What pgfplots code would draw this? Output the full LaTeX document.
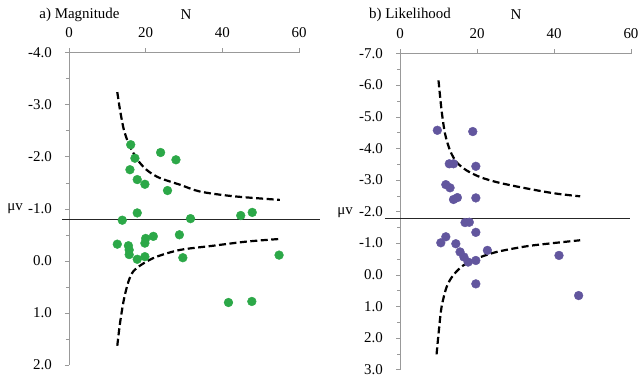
\documentclass[border=0pt]{standalone}
\usepackage{pgfplots}
\pgfplotsset{compat=1.18}
\usepackage{fontspec}
\setmainfont{Liberation Serif}
\definecolor{mgreen}{RGB}{44,168,72}
\definecolor{mpurple}{RGB}{98,86,158}
\begin{document}
\fontsize{15}{17}\selectfont%
\begin{tikzpicture}[font=\fontsize{15}{17}\selectfont]
\path[use as bounding box] (0,0) rectangle (639bp,381bp);
\pgfplotsset{
 panel/.style={
   scale only axis, clip=false,
   axis x line*=top, axis y line*=left,
   axis line style={-, gray!80},
   xmin=0, xmax=60, xtick={0,20,40,60}, xticklabels={0,20,40,60},
   y dir=reverse,
   tick align=outside, major tick length=4bp, minor tick length=3bp,
   minor y tick num=1, minor x tick num=0,
   every tick/.style={gray!80},
   tick label style={font=\fontsize{15}{17}\selectfont, text=black},
   yticklabel style={xshift=-8bp},
   xticklabel style={yshift=6bp},
 },
 pts/.style={only marks, mark=*, mark size=4.4bp, mark options={draw=#1, fill=#1}},
 funnel/.style={black, line width=2.2bp, dash pattern=on 7bp off 3.5bp, smooth, mark=none},
 muline/.style={black!85, line width=1bp, mark=none},
}
% ---------- a) Magnitude ----------
\begin{axis}[panel, at={(69bp,328.5bp)}, anchor=north west,
  width=230bp, height=312.5bp,
  ymin=-4, ymax=2, ytick={-4,-3,-2,-1,0,1,2},
  yticklabels={-4.0,-3.0,-2.0,-1.0,0.0,1.0,2.0}]
\addplot[muline] coordinates {(-1.8,-0.79) (65.5,-0.79)};
\addplot[funnel] coordinates {(12.6,-3.24) (13.3,-2.90) (14.3,-2.52) (15.5,-2.26) (16.8,-2.07) (18.5,-1.88) (20.7,-1.72) (23.7,-1.59) (29,-1.46) (34.2,-1.33) (42.9,-1.24) (55,-1.17)};
\addplot[funnel] coordinates {(12.6,1.63) (13.3,1.20) (14.3,0.75) (15.5,0.40) (16.8,0.20) (19.4,0.05) (22.9,-0.08) (29,-0.21) (37.6,-0.29) (46.4,-0.37) (55,-0.42)};
\addplot[pts=mgreen] coordinates {
 (16.1,-2.23) (17.2,-1.97) (23.9,-2.08) (27.9,-1.94) (15.9,-1.75) (17.8,-1.56) (19.8,-1.47) (25.7,-1.35)
 (13.9,-0.78) (17.8,-0.92) (31.7,-0.81) (44.8,-0.87) (47.8,-0.93)
 (12.6,-0.32) (15.5,-0.29) (15.7,-0.21) (15.7,-0.12) (17.8,-0.03) (19.8,-0.08) (19.8,-0.34) (20.0,-0.43) (22.0,-0.47)
 (28.8,-0.50) (29.7,-0.06) (54.8,-0.11) (41.6,0.80) (47.7,0.78)};
\end{axis}
% ---------- b) Likelihood ----------
\begin{axis}[panel, at={(400bp,327.5bp)}, anchor=north west,
  width=231bp, height=316bp,
  ymin=-7, ymax=3, ytick={-7,-6,-5,-4,-3,-2,-1,0,1,2,3},
  yticklabels={-7.0,-6.0,-5.0,-4.0,-3.0,-2.0,-1.0,0.0,1.0,2.0,3.0}]
\addplot[muline] coordinates {(-3.9,-1.77) (59.7,-1.77)};
\addplot[funnel] coordinates {(10.0,-6.15) (10.8,-5.20) (11.7,-4.46) (13.0,-3.93) (14.7,-3.56) (17.3,-3.30) (20.8,-3.09) (25.1,-2.93) (31.2,-2.77) (39.8,-2.58) (46.8,-2.48)};
\addplot[funnel] coordinates {(9.5,2.52) (10.1,1.76) (10.8,1.02) (12.1,0.39) (13.8,0.02) (16.4,-0.29) (19.9,-0.51) (25.1,-0.72) (32.9,-0.90) (39.8,-1.00) (46.8,-1.09)};
\addplot[pts=mpurple] coordinates {
 (9.7,-4.57) (18.9,-4.53) (12.8,-3.51) (13.9,-3.51) (19.7,-3.43) (11.9,-2.85) (13.0,-2.75)
 (13.9,-2.38) (14.9,-2.44) (19.7,-2.43) (16.9,-1.65) (18.0,-1.66) (19.7,-1.34)
 (10.6,-1.01) (11.9,-1.20) (14.5,-0.98) (15.6,-0.72) (16.6,-0.56) (17.7,-0.40) (19.7,-0.45)
 (22.7,-0.77) (19.7,0.29) (41.3,-0.61) (46.4,0.66)};
\end{axis}
% ---------- titles and labels ----------
\node at (79.5bp,366bp) {a) Magnitude};
\node at (186bp,366bp) {N};
\node at (410bp,366bp) {b) Likelihood};
\node at (516bp,366bp) {N};
\node at (15bp,172bp) {μv};
\node at (345bp,168bp) {μv};
\end{tikzpicture}
\end{document}
